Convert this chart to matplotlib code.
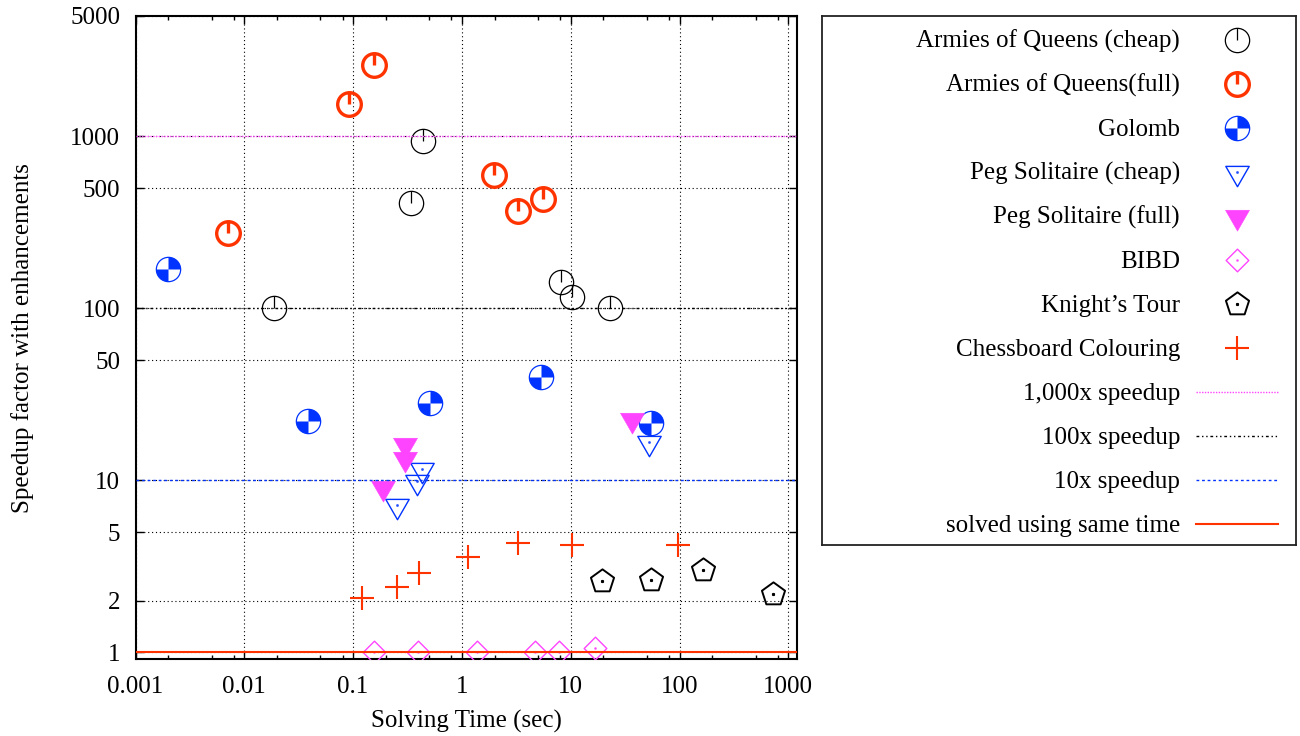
import numpy as np
import matplotlib
matplotlib.use("Agg")
import matplotlib.pyplot as plt
from matplotlib.path import Path
from matplotlib.ticker import NullLocator

plt.rcParams['font.family'] = ['Liberation Serif', 'DejaVu Serif']

# solving time (sec) / speedup factor
aoq_cheap_t = [0.0188, 0.34, 0.44, 8.1, 10.2, 22.8]
aoq_cheap_s = [100, 408, 935, 143, 116, 101]

aoq_full_t = [0.00713, 0.092, 0.156, 1.97, 3.26, 5.54]
aoq_full_s = [273, 1535, 2587, 593, 366, 430]

golomb_t = [0.00201, 0.0386, 0.51, 5.3, 55]
golomb_s = [169, 22, 28, 40, 21.5]

peg_cheap_t = [0.254, 0.389, 0.427, 52.3]
peg_cheap_s = [7.2, 9.9, 11.7, 16.6]

peg_full_t = [0.188, 0.30, 0.30, 36.9]
peg_full_s = [9.2, 13.4, 16.2, 22.6]

bibd_t = [0.156, 0.397, 1.39, 4.74, 7.76, 16.7]
bibd_s = [1, 1, 1, 1, 1, 1.055]

knight_t = [19.5, 54.2, 163.7, 724]
knight_s = [2.6, 2.62, 3.01, 2.19]

chess_t = [0.120, 0.252, 0.401, 1.14, 3.29, 10.3, 97.3]
chess_s = [2.08, 2.40, 2.89, 3.58, 4.34, 4.19, 4.19]

speedup_levels = [1000, 100, 10, 1]
speedup_labels = ['1,000x speedup', '100x speedup', '10x speedup', 'solved using same time']

x_ticks = [0.001, 0.01, 0.1, 1, 10, 100, 1000]
x_ticklabels = ['0.001', '0.01', '0.1', '1', '10', '100', '1000']
y_ticks = [1, 2, 5, 10, 50, 100, 500, 1000, 5000]
y_ticklabels = ['1', '2', '5', '10', '50', '100', '500', '1000', '5000']

RED = '#ff3300'
BLUE = '#0033ff'
MAGENTA = '#ff44ff'
FS = 18


def dot(r):
    return Path([(-r, -r), (r, -r), (r, r), (-r, r), (-r, -r)],
                [Path.MOVETO, Path.LINETO, Path.LINETO, Path.LINETO, Path.CLOSEPOLY])


def closed(verts):
    verts = list(verts) + [verts[0]]
    codes = [Path.MOVETO] + [Path.LINETO] * (len(verts) - 2) + [Path.CLOSEPOLY]
    return Path(verts, codes)


# gnuplot-like point shapes
circle_tick = Path.make_compound_path(Path.unit_circle(), Path([(0, 1), (0, 0)]))
quarters = Path.make_compound_path(Path.wedge(0, 90), Path.wedge(180, 270))
tri = closed([(-11.5, 6), (11.5, 6), (0, -14)])
tri_dot = Path.make_compound_path(tri, dot(0.5))
diamond_dot = Path.make_compound_path(closed([(0, 1), (1, 0), (0, -1), (-1, 0)]), dot(0.04))
ang = np.deg2rad(90 + 72 * np.arange(5))
pent_dot = Path.make_compound_path(closed(list(zip(np.cos(ang), np.sin(ang)))), dot(0.05))

series = [
    ('Armies of Queens (cheap)', aoq_cheap_t, aoq_cheap_s,
     [dict(marker=circle_tick, ms=17.5, mfc='none', mec='black', mew=0.9)]),
    ('Armies of Queens(full)', aoq_full_t, aoq_full_s,
     [dict(marker=circle_tick, ms=17.0, mfc='none', mec=RED, mew=2.4)]),
    ('Golomb', golomb_t, golomb_s,
     [dict(marker=quarters, ms=17.5, mfc=BLUE, mec='none', mew=0),
      dict(marker='o', ms=17.5, mfc='none', mec=BLUE, mew=0.9)]),
    ('Peg Solitaire (cheap)', peg_cheap_t, peg_cheap_s,
     [dict(marker=tri_dot, ms=20.5, mfc='none', mec=BLUE, mew=1.0)]),
    ('Peg Solitaire (full)', peg_full_t, peg_full_s,
     [dict(marker=tri, ms=21.0, mfc=MAGENTA, mec=MAGENTA, mew=0.4)]),
    ('BIBD', bibd_t, bibd_s,
     [dict(marker=diamond_dot, ms=16.3, mfc='none', mec=MAGENTA, mew=1.0)]),
    ('Knight\u2019s Tour', knight_t, knight_s,
     [dict(marker=pent_dot, ms=17.5, mfc='none', mec='black', mew=1.4)]),
    ('Chessboard Colouring', chess_t, chess_s,
     [dict(marker='+', ms=16.8, mec=RED, mew=1.5)]),
]

line_styles = [
    dict(color=MAGENTA, ls=(0, (1, 1)), lw=1.0),
    dict(color='black', ls=(0, (2, 2, 1, 2, 1, 2)), lw=1.0),
    dict(color=BLUE, ls=(0, (2, 2)), lw=1.0),
    dict(color=RED, ls='-', lw=1.5),
]

fig = plt.figure(figsize=(13, 7.36), dpi=100)
W, H = 1300, 736
ax = fig.add_axes([135.5 / W, (H - 659.3) / H, (797.3 - 135.5) / W, (659.3 - 16) / H])
ax.set_xscale('log')
ax.set_yscale('log')

for label, t, s, layers in series:
    for st in layers:
        ax.plot(t, s, ls='none', **st, zorder=3)

for lvl, st in zip(speedup_levels, line_styles):
    ax.axhline(lvl, **st, zorder=4)

ax.set_xlim(0.001, 1209)
ax.set_ylim(0.911, 5000)
ax.set_xticks(x_ticks)
ax.set_xticklabels(x_ticklabels)
ax.set_xticks([k * 10.0 ** d for d in range(-3, 3) for k in (2, 5, 8)], minor=True)
ax.set_yticks(y_ticks)
ax.set_yticklabels(y_ticklabels)
ax.yaxis.set_minor_locator(NullLocator())
ax.tick_params(which='both', direction='in', top=True, right=True, labelsize=FS, width=1.0)
ax.tick_params(which='major', length=6)
ax.tick_params(which='minor', length=3)
ax.tick_params(axis='x', pad=12)
ax.tick_params(axis='y', pad=11)
ax.grid(True, which='major', color='black', ls=(0, (1, 2.5)), lw=0.8, zorder=1)
for sp in ax.spines.values():
    sp.set_linewidth(1.5)

ax.set_xlabel('Solving Time (sec)', fontsize=FS)
ax.set_ylabel('Speedup factor with enhancements', fontsize=FS)
ax.xaxis.set_label_coords(0.5, -0.078)
ax.yaxis.set_label_coords(-0.153, 0.5)

# legend box drawn by hand: label right-aligned, sample on the right
L, R, T, B = 822, 1296, 16, 545
lax = fig.add_axes([L / W, (H - B) / H, (R - L) / W, (B - T) / H])
lax.set_xlim(L, R)
lax.set_ylim(B, T)
lax.set_xticks([])
lax.set_yticks([])
for sp in lax.spines.values():
    sp.set_linewidth(1.3)
    sp.set_color('#222222')

row_y = 39.5
for label, t, s, layers in series:
    lax.text(1180, row_y + 8.5, label, ha='right', va='baseline', fontsize=FS)
    for st in layers:
        lax.plot([1237], [row_y], ls='none', **st)
    row_y += 44
for label, st in zip(speedup_labels, line_styles):
    lax.text(1180, row_y + 8.5, label, ha='right', va='baseline', fontsize=FS)
    lax.plot([1196, 1278], [row_y, row_y], **st)
    row_y += 44

fig.savefig('out.png', dpi=100)
